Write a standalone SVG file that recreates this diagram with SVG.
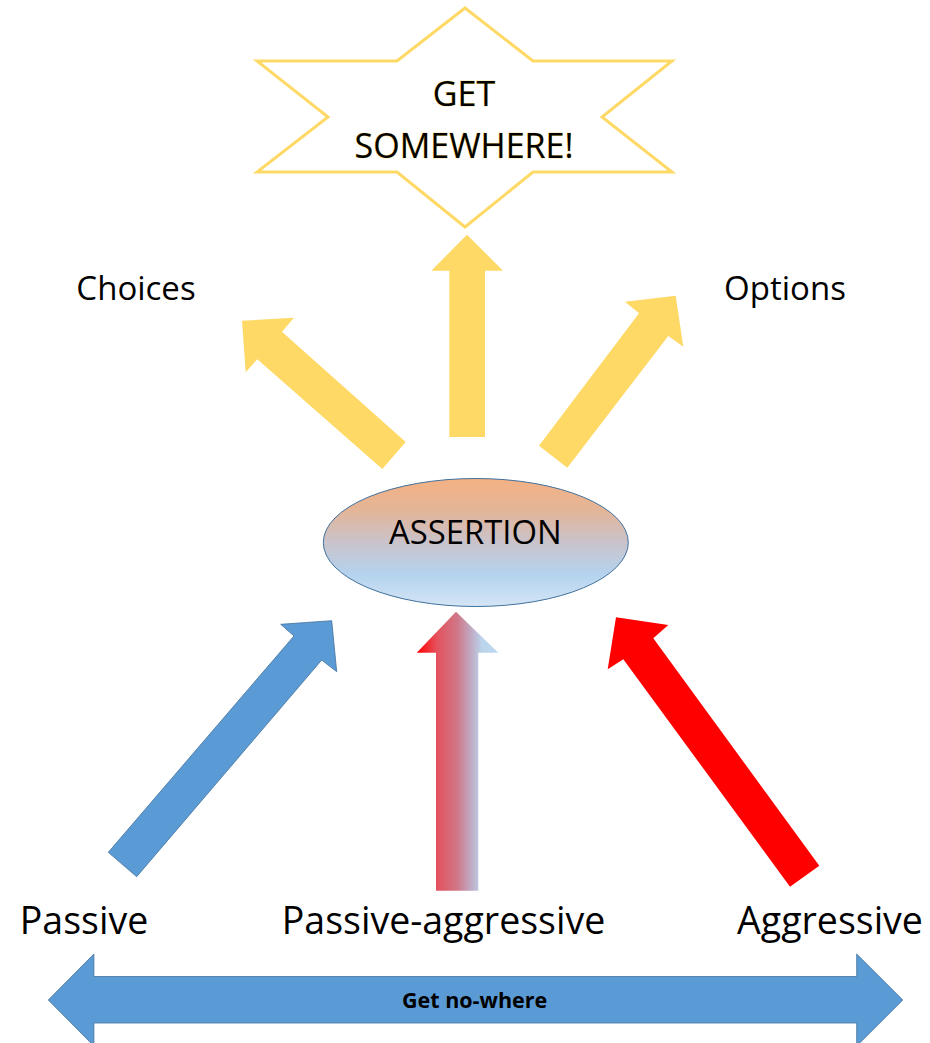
<svg xmlns="http://www.w3.org/2000/svg" width="930" height="1043" viewBox="0 0 930 1043">
<style>
  .lbl { font-family: "Open Sans", "Noto Sans", "Liberation Sans", sans-serif; fill: #000; }
  .yellow { fill: #FFD966; }
  .blue { fill: #5B9BD5; stroke: #41719C; stroke-width: 0.8; }
  .red { fill: #FF0000; }
</style>
<defs>
  <linearGradient id="ellGrad" x1="0" y1="0" x2="0" y2="1">
    <stop offset="0" stop-color="#F4B183"/>
    <stop offset="0.25" stop-color="#E3B598"/>
    <stop offset="0.5" stop-color="#C9C3CB"/>
    <stop offset="0.75" stop-color="#B4D3EE"/>
    <stop offset="1" stop-color="#D4E5F5"/>
  </linearGradient>
  <linearGradient id="paGrad" x1="0" y1="0" x2="1" y2="0">
    <stop offset="0" stop-color="#FF0000"/>
    <stop offset="0.25" stop-color="#E4525E"/>
    <stop offset="0.5" stop-color="#D07888"/>
    <stop offset="0.65" stop-color="#C2A6BE"/>
    <stop offset="0.8" stop-color="#BAD4EC"/>
    <stop offset="1" stop-color="#BDD7EE"/>
  </linearGradient>
</defs>

<g id="get-somewhere">
  <polygon points="465,8 397,61 257,61 328,117 257,172 397,172 465,227 533,172 672,172 602,117 672,61 533,61" fill="#FFFFFF" stroke="#FFD966" stroke-width="3" stroke-linejoin="miter"/>
  <text class="lbl" x="464" y="105.5" font-size="34" text-anchor="middle" fill="#2A2300" stroke="#F2C94C" stroke-width="0.7" paint-order="stroke">GET</text>
  <text class="lbl" x="464" y="158" font-size="34" text-anchor="middle" fill="#2A2300" stroke="#F2C94C" stroke-width="0.7" paint-order="stroke">SOMEWHERE!</text>
</g>

<g id="choices">
  <text class="lbl" x="136" y="299.5" font-size="33" text-anchor="middle">Choices</text>
</g>
<g id="options">
  <text class="lbl" x="785" y="299.5" font-size="33" text-anchor="middle">Options</text>
</g>

<g id="assertion">
  <ellipse cx="475.8" cy="542.5" rx="152.5" ry="64" fill="url(#ellGrad)" stroke="#41719C" stroke-width="1"/>
  <text class="lbl" x="475.3" y="543.5" font-size="32.8" text-anchor="middle">ASSERTION</text>
</g>

<g id="passive">
  <text class="lbl" x="84" y="934" font-size="37.5" text-anchor="middle">Passive</text>
</g>
<g id="passive-aggressive">
  <text class="lbl" x="443.5" y="934" font-size="37.5" text-anchor="middle">Passive-aggressive</text>
</g>
<g id="aggressive">
  <text class="lbl" x="830" y="934" font-size="37.5" text-anchor="middle">Aggressive</text>
</g>

<g id="get-nowhere">
  <polygon class="blue" points="48.3,1000 93.9,954 93.9,976.5 856.7,976.5 856.7,954 902.8,1000 856.7,1046 856.7,1023 93.9,1023 93.9,1046"/>
  <text class="lbl" x="474.6" y="1007.5" font-size="21.5" font-weight="bold" text-anchor="middle">Get no-where</text>
</g>

<g id="connectors">
  <polygon class="yellow" points="467,234.7 503,270.7 485,270.7 485,437 449.3,437 449.3,270.7 431.3,270.7"/>
  <polygon class="yellow" points="242,320.7 294,317.7 282,331.7 405.7,442 382.3,469 257.3,359.3 245.7,372.3"/>
  <polygon class="yellow" points="675.7,295.7 683.3,346.7 668.3,336 567.3,467.7 539,445.7 639,313.3 625,301.7"/>
  <polygon class="blue" points="331.7,620.7 336.7,671.7 321.7,660 136.7,876.7 108.3,852.3 294,636 280.7,624.3"/>
  <polygon fill="url(#paGrad)" points="456,611.7 498.3,652.7 478.3,652.7 478.3,890.7 436,890.7 436,652.7 416.7,652.7"/>
  <polygon class="red" points="616,617.3 668.3,625 653.3,638.3 819.3,865.7 790,886.7 623.3,659.3 607.7,669.3"/>
</g>
</svg>
